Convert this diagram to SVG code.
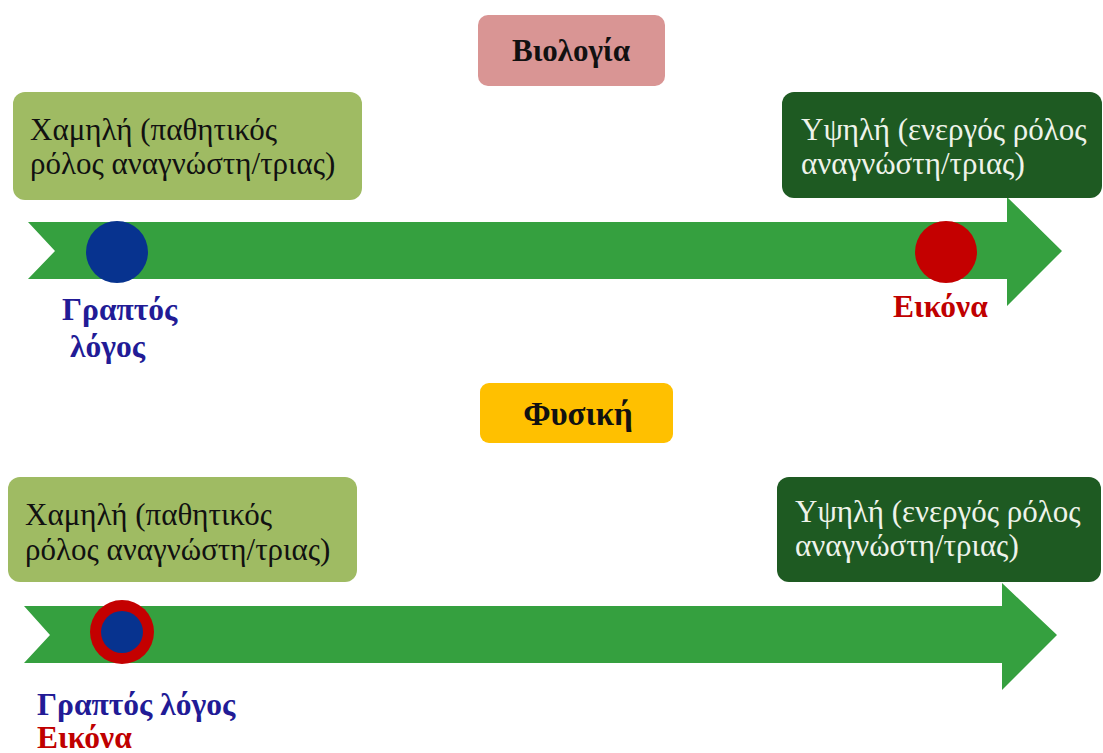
<svg xmlns="http://www.w3.org/2000/svg" width="1103" height="753" viewBox="0 0 1103 753">
<style>
.box{stroke:none}
.t{font-family:"Liberation Serif","Times New Roman",serif;font-size:31px}
.dark{fill:#111}
.light{fill:#eef3ea}
.lbl{font-family:"Liberation Serif","Times New Roman",serif;font-size:31.5px;font-weight:bold}
.title{font-family:"Liberation Serif","Times New Roman",serif;font-weight:bold;fill:#111;text-anchor:middle}
.arrow{fill:#35a03f}
</style>
<rect width="1103" height="753" fill="#ffffff"/>
<g id="title-bio"><rect class="box" x="478" y="15" width="187" height="71" rx="10" fill="#d99594"/><text class="title" x="571" y="61" font-size="31">Βιολογία</text></g>
<g id="arrow-top"><polygon class="arrow" points="28,222 1007,222 1007,197 1062,251 1007,306 1007,279 28,279 55,251"/></g>
<g id="low-top"><rect class="box" x="13" y="92" width="349" height="108" rx="12" fill="#9fbb63"/><text class="t dark" x="30" y="140">Χαμηλή (παθητικός</text><text class="t dark" x="30" y="174">ρόλος αναγνώστη/τριας)</text></g>
<g id="high-top"><rect class="box" x="782" y="92" width="320" height="106" rx="12" fill="#1e5a22"/><text class="t light" x="801" y="140">Υψηλή (ενεργός ρόλος</text><text class="t light" x="801" y="174">αναγνώστη/τριας)</text></g>
<g id="dot-text-top"><circle cx="117" cy="252" r="31" fill="#07338f"/><text class="lbl" x="62" y="320" fill="#221b96">Γραπτός</text><text class="lbl" x="70" y="357" fill="#221b96">λόγος</text></g>
<g id="dot-image-top"><circle cx="946" cy="252" r="31" fill="#c40000"/><text class="lbl" x="893" y="317" fill="#c00000">Εικόνα</text></g>
<g id="title-phys"><rect class="box" x="480" y="383" width="193" height="60" rx="9" fill="#ffc000"/><text class="title" x="578" y="425" font-size="33">Φυσική</text></g>
<g id="arrow-bottom"><polygon class="arrow" points="24,606 1002,606 1002,583 1057,635 1002,690 1002,663 24,663 50,635"/></g>
<g id="low-bottom"><rect class="box" x="8" y="477" width="349" height="105" rx="12" fill="#9fbb63"/><text class="t dark" x="25" y="525">Χαμηλή (παθητικός</text><text class="t dark" x="25" y="560">ρόλος αναγνώστη/τριας)</text></g>
<g id="high-bottom"><rect class="box" x="777" y="477" width="324" height="105" rx="12" fill="#1e5a22"/><text class="t light" x="795" y="522">Υψηλή (ενεργός ρόλος</text><text class="t light" x="795" y="556">αναγνώστη/τριας)</text></g>
<g id="dot-both-bottom"><circle cx="122" cy="632" r="32" fill="#c40000"/><circle cx="122" cy="632" r="21" fill="#07338f"/><text class="lbl" x="37" y="715" fill="#221b96">Γραπτός λόγος</text><text class="lbl" x="37" y="748" fill="#c00000">Εικόνα</text></g>
<g id="connectors"></g>
</svg>
